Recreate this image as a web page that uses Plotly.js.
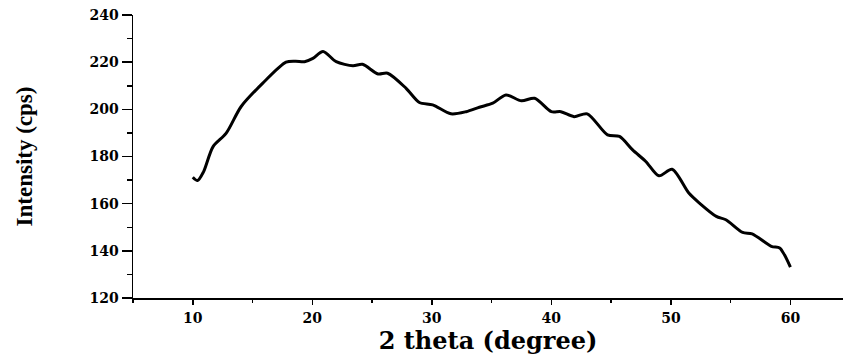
<!DOCTYPE html>
<html>
<head>
<meta charset="utf-8">
<script src="https://cdn.plot.ly/plotly-3.0.1.min.js"></script>
<style>
  html, body { margin: 0; padding: 0; background: #fff; }
  #chart { width: 843px; height: 355px; }
</style>
</head>
<body>
<div id="chart"></div>
<script>
const twoTheta = [10, 10.4, 10.9, 11.7, 12.8, 14.05, 15.86, 17.8, 18.6, 19.35, 20.05, 20.9, 22.0, 23.4, 24.2, 25.5, 26.3, 27.85, 28.96, 30.07, 31.6, 32.87, 33.98, 35.1, 36.2, 37.5, 38.6, 40.0, 40.8, 41.9, 43.0, 44.7, 45.7, 46.8, 47.9, 49.0, 50.1, 51.5, 52.4, 53.8, 54.6, 56.0, 56.8, 58.4, 59.1, 59.5, 60.0];
const intensity = [171.2, 169.8, 173.5, 184.2, 189.9, 201.2, 211.1, 220.0, 220.4, 220.2, 221.6, 224.5, 220.2, 218.5, 219.1, 215.0, 215.3, 208.9, 202.9, 201.9, 198.1, 199.0, 200.9, 202.6, 206.1, 203.6, 204.7, 199.0, 199.0, 196.9, 198.1, 189.2, 188.5, 182.8, 177.9, 171.8, 174.6, 164.5, 160.2, 154.6, 153.2, 147.8, 147.2, 141.9, 141.2, 138.3, 133.1];
const xTicks = [10, 20, 30, 40, 50, 60];
const yTicks = [120, 140, 160, 180, 200, 220, 240];

const tickFont = {family: 'DejaVu Serif', size: 14, color: '#000', weight: 'bold'};

Plotly.newPlot('chart', [{
  x: twoTheta,
  y: intensity,
  type: 'scatter',
  mode: 'lines',
  line: {color: '#000', width: 3, shape: 'spline', smoothing: 0.8},
  hoverinfo: 'none'
}], {
  width: 843,
  height: 355,
  margin: {l: 133, r: 0, t: 15, b: 57},
  paper_bgcolor: '#fff',
  plot_bgcolor: '#fff',
  showlegend: false,
  xaxis: {
    range: [5, 64.4],
    tickvals: xTicks,
    ticktext: xTicks.map(String),
    ticks: 'outside',
    ticklen: 5,
    tickwidth: 1.5,
    tickcolor: '#000',
    ticklabelstandoff: 2,
    minor: {dtick: 5, tick0: 5, ticks: 'outside', ticklen: 3, tickwidth: 1.5, tickcolor: '#000'},
    showline: true,
    linecolor: '#000',
    linewidth: 1.5,
    showgrid: false,
    zeroline: false,
    tickfont: tickFont,
    title: {text: '2 theta (degree)', font: {family: 'DejaVu Serif', size: 24, color: '#000', weight: 'bold'}, standoff: 10}
  },
  yaxis: {
    range: [120, 240],
    tickvals: yTicks,
    ticktext: yTicks.map(String),
    ticks: 'outside',
    ticklen: 10,
    tickwidth: 1.5,
    tickcolor: '#000',
    minor: {dtick: 10, tick0: 120, ticks: 'outside', ticklen: 5, tickwidth: 1.5, tickcolor: '#000'},
    showline: true,
    linecolor: '#000',
    linewidth: 1.5,
    showgrid: false,
    zeroline: false,
    tickfont: tickFont,
    title: {text: 'Intensity (cps)', font: {family: 'Liberation Serif', size: 23, color: '#000', weight: 'bold'}, standoff: 50}
  }
}, {displayModeBar: false, staticPlot: true});
</script>
</body>
</html>
